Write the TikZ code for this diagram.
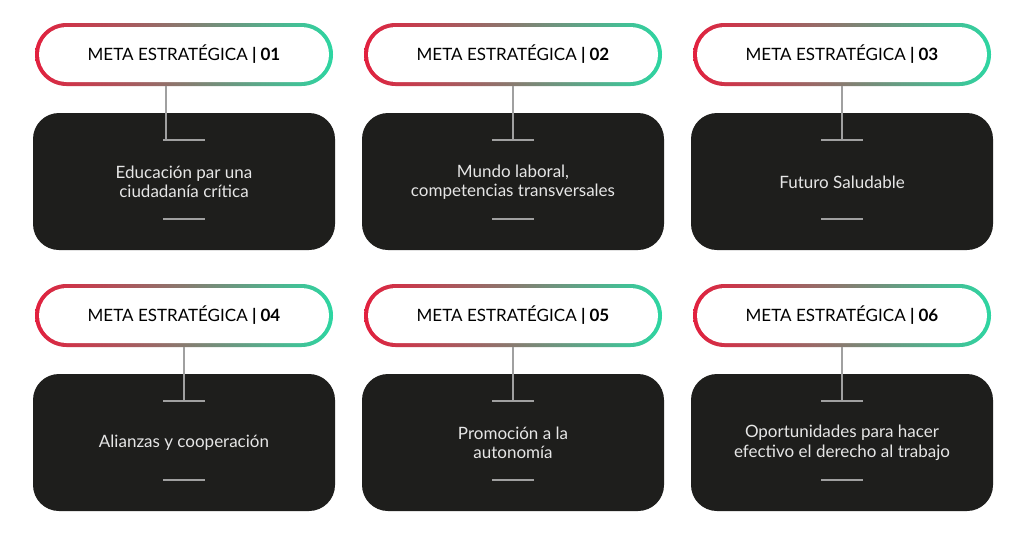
\documentclass[tikz,border=0pt]{standalone}
\usepackage{fontspec}
\setmainfont{Lato}
\begin{document}
\begin{tikzpicture}[x=1pt,y=-1pt,
  box/.style={fill=boxc,rounded corners=26pt},
  body/.style={text=txtc,align=center,font=\fontsize{17}{19.5}\selectfont},
  head/.style={text=black,font=\fontsize{17}{20}\selectfont},
  conn/.style={draw=linec,line width=1.3pt}]
\definecolor{boxc}{HTML}{1E1E1C}
\definecolor{txtc}{HTML}{E6E6E6}
\definecolor{linec}{HTML}{A0A0A0}
\definecolor{redc}{HTML}{E2203E}
\definecolor{tealc}{HTML}{2DD6A2}
\useasboundingbox (0,0) rectangle (1024,533);
\fill[white] (0,0) rectangle (1024,533);
\foreach \c/\r/\n/\lx/\t in {0/0/01/166/{Educación par una\\ciudadanía crítica},
  1/0/02/184/{Mundo laboral,\\competencias transversales},
  2/0/03/184/{Futuro Saludable},
  0/1/04/184/{Alianzas y cooperación},
  1/1/05/184/{Promoción a la\\autonomía},
  2/1/06/184/{Oportunidades para hacer\\efectivo el derecho al trabajo}}{
  \begin{scope}[shift={(329*\c,261*\r)}]
    \shade[left color=redc,right color=tealc,rounded corners=31.5pt] (35,23) rectangle (333,86);
    \fill[white,rounded corners=27.5pt] (39,27) rectangle (329,82);
    \node[head] (h\n) at (184,54.5) {META ESTRATÉGICA \textbf{| \n}};
    \fill[box] (33,113) rectangle (335,250);
    \node[body] (b\n) at (184,182) {\t};
    \coordinate (p\n) at (\lx,86);
    \coordinate (q\n) at (\lx,140);
    \coordinate (r1\n) at (163,140);
    \coordinate (r2\n) at (205,140);
    \coordinate (s\n) at (163,219);
    \coordinate (t\n) at (205,219);
    \draw[conn] (p\n) -- (q\n);
    \draw[conn] (r1\n) -- (r2\n);
    \draw[conn] (s\n) -- (t\n);
  \end{scope}}
\end{tikzpicture}
\end{document}
